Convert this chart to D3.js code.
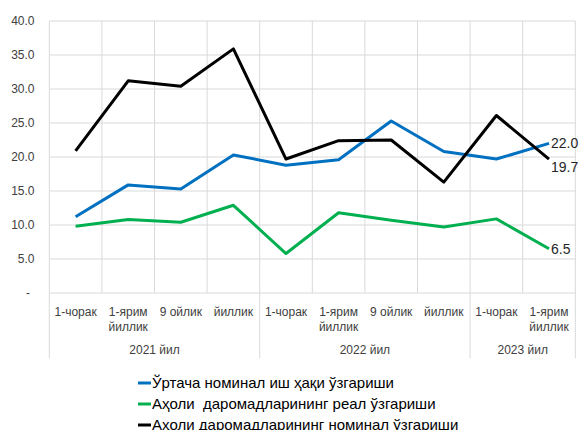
<!DOCTYPE html>
<html>
<head>
<meta charset="utf-8">
<script src="https://cdn.jsdelivr.net/npm/d3@7.9.0/dist/d3.min.js"></script>
<style>
  body { margin: 0; background: #fff; }
  svg { display: block; font-family: "Liberation Sans", Arial, sans-serif; }
</style>
</head>
<body>
<svg id="chart" width="582" height="430"></svg>
<script>
// periods (two-line labels) and the year groups they belong to
const periods = [
    ["1-чорак"], ["1-ярим", "йиллик"], ["9 ойлик"], ["йиллик"],
    ["1-чорак"], ["1-ярим", "йиллик"], ["9 ойлик"], ["йиллик"],
    ["1-чорак"], ["1-ярим", "йиллик"]
];
const years = [
    { label: "2021 йил", from: 0, to: 3 },
    { label: "2022 йил", from: 4, to: 7 },
    { label: "2023 йил", from: 8, to: 9 }
];

const wageNominal   = [11.2, 15.9, 15.3, 20.3, 18.8, 19.6, 25.3, 20.8, 19.7, 22.0];
const incomeReal    = [9.8, 10.8, 10.4, 12.9, 5.8, 11.8, 10.7, 9.7, 10.9, 6.5];
const incomeNominal = [20.9, 31.2, 30.4, 35.9, 19.7, 22.4, 22.5, 16.3, 26.1, 19.7];

const seriesNames = [
    "Ўртача номинал иш ҳақи ўзгариши",
    "Аҳоли  даромадларининг реал ўзгариши",
    "Аҳоли даромадларининг номинал ўзгариши"
];
const seriesColors = ["#0070c0", "#00b050", "#000000"];
const yTicks = [0, 5, 10, 15, 20, 25, 30, 35, 40];

const series = [wageNominal, incomeReal, incomeNominal];

const svg = d3.select("#chart");
const plotLeft = 49.3, plotRight = 575.3, plotTop = 21, plotBottom = 293;

const x = d3.scaleBand().domain(d3.range(periods.length)).range([plotLeft, plotRight]);
const y = d3.scaleLinear().domain([0, 40]).range([plotBottom, plotTop]);

// horizontal grid
svg.append("g").selectAll("line")
    .data(yTicks)
    .join("line")
    .attr("x1", plotLeft).attr("x2", plotRight)
    .attr("y1", d => y(d)).attr("y2", d => y(d))
    .attr("stroke", "#d9d9d9").attr("stroke-width", 1);

// vertical grid; group boundaries run down into the label area
const bounds = d3.range(periods.length + 1);
const groupEdges = new Set([0, 4, 8, 10]);
svg.append("g").selectAll("line")
    .data(bounds)
    .join("line")
    .attr("x1", i => i < periods.length ? x(i) : plotRight)
    .attr("x2", i => i < periods.length ? x(i) : plotRight)
    .attr("y1", plotTop)
    .attr("y2", i => groupEdges.has(i) ? 358 : plotBottom)
    .attr("stroke", "#d9d9d9").attr("stroke-width", 1);

// y tick labels
svg.append("g").selectAll("text")
    .data(yTicks)
    .join("text")
    .attr("x", d => d === 0 ? 30 : 34.5)
    .attr("y", d => y(d))
    .attr("dy", "0.35em")
    .attr("text-anchor", "end")
    .attr("font-size", 12)
    .attr("fill", "#404040")
    .text(d => d === 0 ? "-" : d3.format(".1f")(d));

// period labels
const cat = svg.append("g").selectAll("text")
    .data(periods)
    .join("text")
    .attr("x", (d, i) => x(i) + x.bandwidth() / 2)
    .attr("y", 316)
    .attr("text-anchor", "middle")
    .attr("font-size", 12)
    .attr("fill", "#404040");
cat.selectAll("tspan")
    .data(d => d)
    .join("tspan")
    .attr("x", function () { return d3.select(this.parentNode).attr("x"); })
    .attr("dy", (d, i) => i === 0 ? 0 : 15)
    .text(d => d);

// year labels
svg.append("g").selectAll("text")
    .data(years)
    .join("text")
    .attr("x", d => (x(d.from) + x(d.to) + x.bandwidth()) / 2)
    .attr("y", 354)
    .attr("text-anchor", "middle")
    .attr("font-size", 12)
    .attr("fill", "#404040")
    .text(d => d.label);

// lines
const line = d3.line()
    .x((d, i) => x(i) + x.bandwidth() / 2)
    .y(d => y(d));

series.forEach((values, k) => {
    svg.append("path")
        .attr("d", line(values))
        .attr("fill", "none")
        .attr("stroke", seriesColors[k])
        .attr("stroke-width", 3)
        .attr("stroke-linejoin", "round");
});

// end labels
const last = periods.length - 1;
const endOffsets = [0, 0, 8];
series.forEach((values, k) => {
    svg.append("text")
        .attr("x", x(last) + x.bandwidth() / 2 + 2)
        .attr("y", y(values[last]) + endOffsets[k])
        .attr("dy", "0.35em")
        .attr("font-size", 14)
        .attr("fill", "#262626")
        .text(d3.format(".1f")(values[last]));
});

// legend
const legend = svg.append("g").selectAll("g")
    .data(seriesNames)
    .join("g")
    .attr("transform", (d, i) => `translate(138, ${383 + i * 21})`);
legend.append("line")
    .attr("x1", 0).attr("x2", 13)
    .attr("stroke", (d, i) => seriesColors[i])
    .attr("stroke-width", 3);
legend.append("text")
    .attr("x", 14)
    .attr("dy", "0.35em")
    .attr("font-size", 15)
    .attr("fill", "#000")
    .style("white-space", "pre")
    .text(d => d);
</script>
</body>
</html>
